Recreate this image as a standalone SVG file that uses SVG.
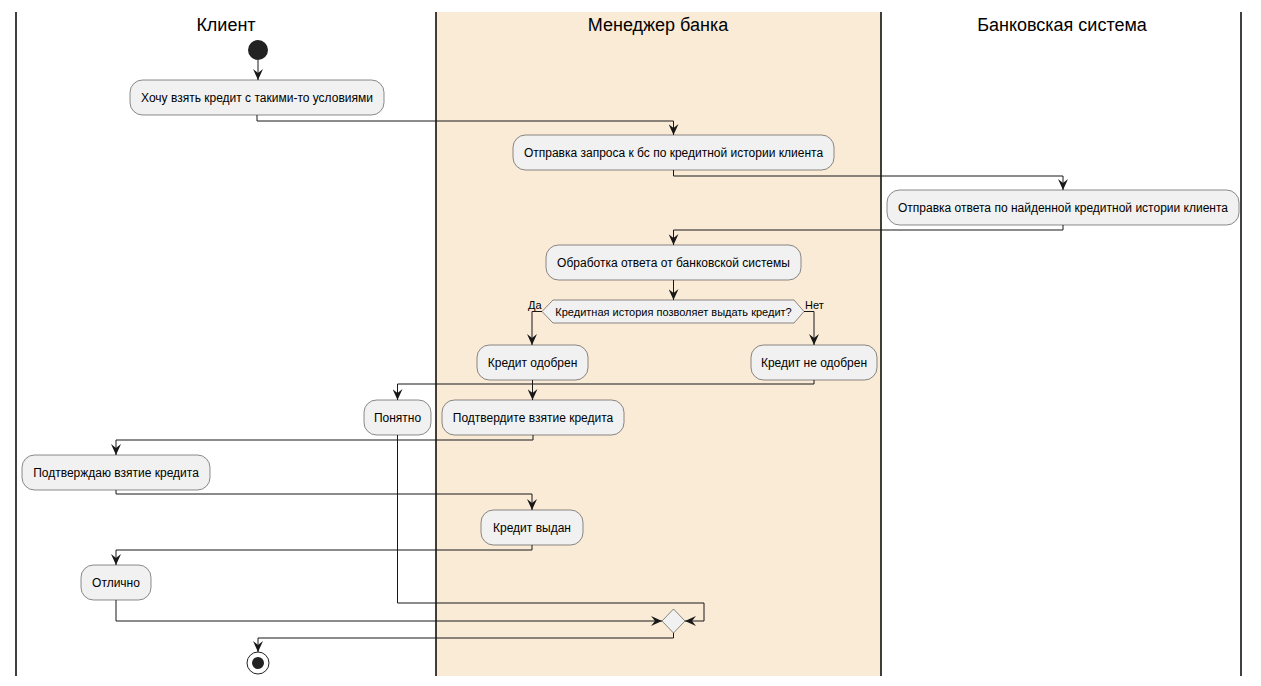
<svg xmlns="http://www.w3.org/2000/svg" width="1261" height="686" viewBox="0 0 1261 686">
<style>
.lane{stroke:#000000;stroke-width:1.5;fill:none}
.title{font-family:"Liberation Sans",Arial,sans-serif;font-size:18px;fill:#000000;text-anchor:middle}
.node rect{fill:#F1F1F1;stroke:#181818;stroke-width:0.5}
.node text{font-family:"Liberation Sans",Arial,sans-serif;font-size:12px;fill:#000000;text-anchor:middle}
.dec polygon{fill:#F1F1F1;stroke:#181818;stroke-width:0.5}
.dec text{font-family:"Liberation Sans",Arial,sans-serif;font-size:11px;fill:#000000}
.conn path{fill:none;stroke:#181818;stroke-width:1}
</style>
<defs>
<marker id="arr" viewBox="0 0 11 10" refX="11" refY="5" markerWidth="11" markerHeight="10" markerUnits="userSpaceOnUse" orient="auto">
<path d="M0,0 L11,5 L0,10 L4,5 Z" fill="#181818"/>
</marker>
</defs>
<rect width="1261" height="686" fill="#FFFFFF"/>
<g id="lanes">
<rect x="436" y="12" width="445" height="664" fill="#FAEBD7"/>
<line class="lane" x1="16" y1="12" x2="16" y2="676"/>
<line class="lane" x1="436" y1="12" x2="436" y2="676"/>
<line class="lane" x1="881" y1="12" x2="881" y2="676"/>
<line class="lane" x1="1241" y1="12" x2="1241" y2="676"/>
<text class="title" x="226" y="31">Клиент</text>
<text class="title" x="658" y="31">Менеджер банка</text>
<text class="title" x="1062" y="31">Банковская система</text>
</g>
<g id="start"><circle cx="258" cy="50" r="10" fill="#222222"/></g>
<g id="n1" class="node"><rect x="130" y="80" width="254" height="35" rx="12.5"/><text x="257" y="102">Хочу взять кредит с такими-то условиями</text></g>
<g id="n2" class="node"><rect x="513" y="135" width="321" height="35" rx="12.5"/><text x="673.5" y="157">Отправка запроса к бс по кредитной истории клиента</text></g>
<g id="n3" class="node"><rect x="887" y="190" width="352" height="35" rx="12.5"/><text x="1063" y="212">Отправка ответа по найденной кредитной истории клиента</text></g>
<g id="n4" class="node"><rect x="546" y="245" width="255" height="35" rx="12.5"/><text x="673.5" y="267">Обработка ответа от банковской системы</text></g>
<g id="decision" class="dec"><polygon points="542,311.5 553,300 794,300 804,311.5 794,323 553,323"/><text x="673.5" y="315.5" text-anchor="middle">Кредитная история позволяет выдать кредит?</text><text x="528" y="309">Да</text><text x="805" y="309">Нет</text></g>
<g id="n5" class="node"><rect x="477" y="345" width="111" height="35" rx="12.5"/><text x="532.5" y="367">Кредит одобрен</text></g>
<g id="n6" class="node"><rect x="751" y="345" width="126" height="35" rx="12.5"/><text x="814" y="367">Кредит не одобрен</text></g>
<g id="n7" class="node"><rect x="364" y="400" width="67" height="35" rx="12.5"/><text x="397.5" y="422">Понятно</text></g>
<g id="n8" class="node"><rect x="442" y="400" width="182" height="35" rx="12.5"/><text x="533" y="422">Подтвердите взятие кредита</text></g>
<g id="n9" class="node"><rect x="22" y="455" width="188" height="35" rx="12.5"/><text x="116" y="477">Подтверждаю взятие кредита</text></g>
<g id="n10" class="node"><rect x="481" y="510" width="102" height="35" rx="12.5"/><text x="532" y="532">Кредит выдан</text></g>
<g id="n11" class="node"><rect x="81" y="565" width="70" height="35" rx="12.5"/><text x="116" y="587">Отлично</text></g>
<g id="merge" class="dec"><polygon points="673.5,609 685,621 673.5,633 662,621"/></g>
<g id="end"><circle cx="258" cy="663" r="11" fill="#FFFFFF" stroke="#222222" stroke-width="1"/><circle cx="258" cy="663" r="6" fill="#222222"/></g>
<g id="connectors" class="conn">
<path d="M258,60 V80" marker-end="url(#arr)"/>
<path d="M257,115 V121 H673.5 V135" marker-end="url(#arr)"/>
<path d="M673.5,170 V176 H1063 V190" marker-end="url(#arr)"/>
<path d="M1063,225 V230 H673.5 V245" marker-end="url(#arr)"/>
<path d="M673.5,280 V300" marker-end="url(#arr)"/>
<path d="M542,311.5 H532 V345" marker-end="url(#arr)"/>
<path d="M804,311.5 H814 V345" marker-end="url(#arr)"/>
<path d="M814,380 V384 H397.5 V400" marker-end="url(#arr)"/>
<path d="M532.5,380 V400" marker-end="url(#arr)"/>
<path d="M533,435 V440 H116 V455" marker-end="url(#arr)"/>
<path d="M116,490 V494 H532 V510" marker-end="url(#arr)"/>
<path d="M532,545 V550 H116 V565" marker-end="url(#arr)"/>
<path d="M116,600 V621 H662" marker-end="url(#arr)"/>
<path d="M397.5,435 V603 H704 V621 H685" marker-end="url(#arr)"/>
<path d="M673.5,633 V638 H258 V652" marker-end="url(#arr)"/>
</g>
</svg>
